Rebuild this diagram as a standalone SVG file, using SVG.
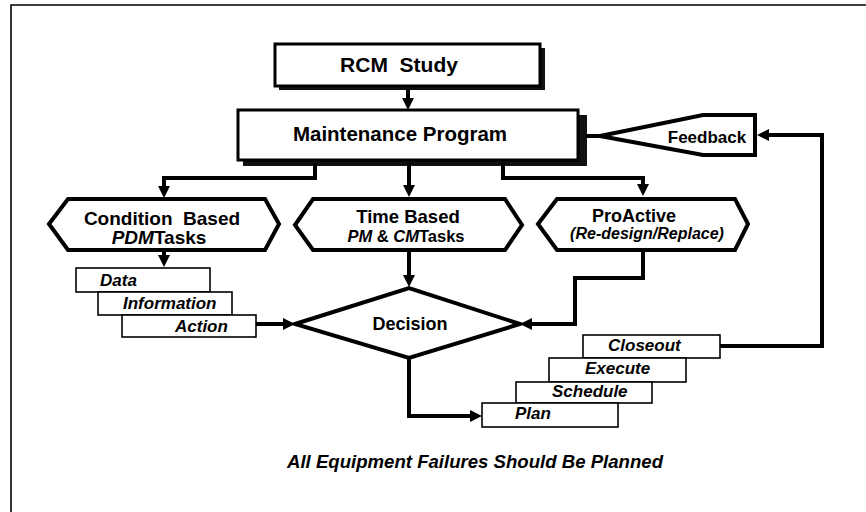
<svg xmlns="http://www.w3.org/2000/svg" width="866" height="512" viewBox="0 0 866 512">
  <style>
    .t { font-family: "Liberation Sans", Arial, sans-serif; font-weight: bold; fill: #000; }
    .i { font-style: italic; }
    .box { fill: #fff; stroke: #000; stroke-width: 3; }
    .shadow { fill: #111; }
    .hex { fill: #fff; stroke: #000; stroke-width: 4; stroke-linejoin: miter; }
    .step { fill: #fff; stroke: #000; stroke-width: 1.6; }
    .conn { fill: none; stroke: #000; stroke-width: 4; stroke-linejoin: miter; }
    .frame { fill: none; stroke: #000; stroke-width: 1.6; }
  </style>
  <defs>
    <marker id="ah" markerWidth="12" markerHeight="12" refX="4" refY="6" orient="auto" markerUnits="userSpaceOnUse">
      <path d="M0,0 L12,6 L0,12 z" fill="#000"/>
    </marker>
  </defs>

  <rect width="866" height="512" fill="#fff"/>
  <!-- page frame -->
  <path class="frame" d="M11,512 V5 H866"/>

  <g id="rcm-study">
    <rect class="shadow" x="279" y="48" width="266" height="42"/>
    <rect class="box" x="275" y="44" width="265" height="42"/>
    <text class="t" x="399" y="72" font-size="21" text-anchor="middle" style="white-space:pre">RCM  Study</text>
  </g>

  <g id="maintenance-program">
    <rect class="shadow" x="243" y="115" width="344" height="51"/>
    <rect class="box" x="238" y="110" width="340" height="50" stroke-width="2.5"/>
    <text class="t" x="400" y="141" font-size="20.5" text-anchor="middle">Maintenance Program</text>
  </g>

  <g id="feedback">
    <polygon class="hex" stroke-width="3.5" points="600,136 703,115 755,115 755,155 703,155"/>
    <text class="t" x="707" y="143" font-size="17" text-anchor="middle">Feedback</text>
  </g>

  <g id="condition-based">
    <polygon class="hex" points="49,224 68,199 265,199 279,224 265,250 68,250"/>
    <text class="t" x="162" y="225" font-size="19" text-anchor="middle" style="white-space:pre">Condition  Based</text>
    <text class="t" x="159" y="244" font-size="19" text-anchor="middle"><tspan class="i">PDM</tspan>Tasks</text>
  </g>

  <g id="time-based">
    <polygon class="hex" points="295,225 313,199 505,199 522,225 505,250 313,250"/>
    <text class="t" x="408" y="223" font-size="18.5" text-anchor="middle">Time Based</text>
    <text class="t" x="406" y="242" font-size="16.5" text-anchor="middle"><tspan class="i">PM</tspan> &amp; <tspan class="i">CM</tspan>Tasks</text>
  </g>

  <g id="proactive">
    <polygon class="hex" points="538,224 557,199 735,199 748,224 735,250 557,250"/>
    <text class="t" x="634" y="222" font-size="18" text-anchor="middle">ProActive</text>
    <text class="t i" x="647" y="239" font-size="16" text-anchor="middle">(Re-design/Replace)</text>
  </g>

  <g id="data-steps">
    <rect class="step" x="76" y="268" width="134" height="24"/>
    <text class="t i" x="100" y="286" font-size="17">Data</text>
    <rect class="step" x="98" y="292" width="134" height="23"/>
    <text class="t i" x="123" y="309" font-size="17">Information</text>
    <rect class="step" x="122" y="315" width="134" height="22"/>
    <text class="t i" x="175" y="332" font-size="17">Action</text>
  </g>

  <g id="decision">
    <polygon class="hex" stroke-width="5" points="295,324 409,288 520,324 409,358"/>
    <text class="t" x="410" y="330" font-size="18" text-anchor="middle">Decision</text>
  </g>

  <g id="work-steps">
    <rect class="step" x="583" y="335" width="137" height="23"/>
    <text class="t i" x="608" y="351" font-size="17">Closeout</text>
    <rect class="step" x="549" y="358" width="137" height="24"/>
    <text class="t i" x="585" y="374" font-size="17">Execute</text>
    <rect class="step" x="516" y="382" width="136" height="21"/>
    <text class="t i" x="552" y="397" font-size="17">Schedule</text>
    <rect class="step" x="482" y="403" width="136" height="24"/>
    <text class="t i" x="515" y="419" font-size="17">Plan</text>
  </g>

  <g id="connectors">
    <path class="conn" marker-end="url(#ah)" d="M408,89 V102"/>
    <path class="conn" marker-end="url(#ah)" d="M315,163 V178 H164 V190"/>
    <path class="conn" marker-end="url(#ah)" d="M409,163 V189"/>
    <path class="conn" marker-end="url(#ah)" d="M503,163 V178 H643 V188"/>
    <path class="conn" marker-end="url(#ah)" d="M164,251 V259"/>
    <path class="conn" marker-end="url(#ah)" d="M256,324 H287"/>
    <path class="conn" marker-end="url(#ah)" d="M409,251 V279"/>
    <path class="conn" marker-end="url(#ah)" d="M643,251 V278 H575 V324 H528"/>
    <path class="conn" marker-end="url(#ah)" d="M409,358 V416 H474"/>
    <path class="conn" stroke-width="3.5" marker-end="url(#ah)" d="M720,346 H822 V135 H765"/>
    <path class="conn" d="M586,136 H602"/>
  </g>

  <text class="t i" x="287" y="468" font-size="17.5" textLength="376" lengthAdjust="spacingAndGlyphs">All Equipment Failures Should Be Planned</text>
</svg>
